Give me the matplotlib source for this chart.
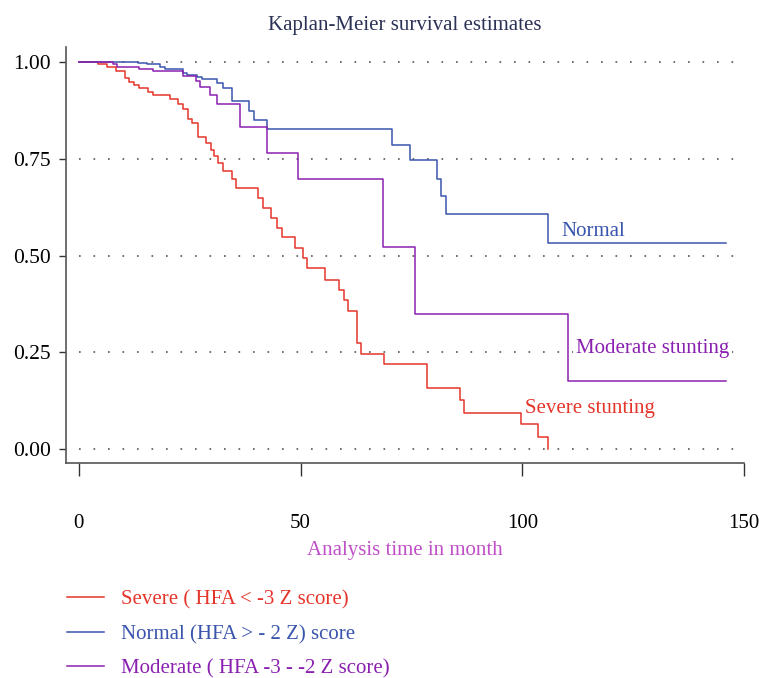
import matplotlib
matplotlib.use("Agg")
import matplotlib.pyplot as plt

plt.rcParams['font.family'] = ['Liberation Serif', 'DejaVu Serif']

# Severe stunting (HFA < -3 Z)
severe_t = [0, 4.4, 6.3, 8.3, 10.4, 11.4, 12.4, 13.5, 15.5, 16.6, 20.5, 22.4, 23.4,
            24.5, 25.6, 26.8, 28.6, 29.7, 30.5, 31.4, 32.6, 34.5, 35.4, 40.5, 41.5,
            43.3, 44.6, 45.8, 48.7, 50.6, 51.5, 55.5, 58.6, 59.7, 60.7, 62.7, 63.7,
            68.7, 78.6, 85.9, 86.8, 99.7, 103.6, 105.8]
severe_s = [1.0, 0.994, 0.986, 0.977, 0.958, 0.949, 0.941, 0.932, 0.923, 0.915, 0.904,
            0.891, 0.879, 0.853, 0.842, 0.807, 0.791, 0.773, 0.757, 0.739, 0.718,
            0.697, 0.675, 0.649, 0.622, 0.596, 0.571, 0.547, 0.519, 0.493, 0.467,
            0.438, 0.411, 0.385, 0.357, 0.275, 0.247, 0.220, 0.157, 0.127, 0.094,
            0.065, 0.032, 0.0]

# Normal (HFA > -2 Z)
normal_t = [0, 13.4, 15.3, 18.3, 19.4, 23.5, 24.4, 26.6, 27.8, 31.1, 32.4, 34.5,
            38.4, 39.5, 42.5, 70.6, 74.6, 80.7, 81.6, 82.8, 105.7, 146]
normal_s = [1.0, 0.997, 0.994, 0.988, 0.981, 0.972, 0.966, 0.962, 0.955, 0.945,
            0.932, 0.899, 0.874, 0.850, 0.826, 0.787, 0.747, 0.699, 0.654, 0.607,
            0.532, 0.532]

# Moderate stunting (HFA -3 to -2 Z)
moderate_t = [0, 7.7, 8.7, 13.5, 16.6, 23.5, 26.5, 27.4, 29.5, 31.1, 36.3, 42.5,
              49.5, 68.6, 75.7, 110.2, 146]
moderate_s = [1.0, 0.995, 0.988, 0.982, 0.977, 0.964, 0.950, 0.935, 0.915, 0.891,
              0.833, 0.766, 0.697, 0.523, 0.348, 0.176, 0.176]

legend_labels = ['Severe ( HFA < -3 Z score)',
                 'Normal (HFA > - 2 Z) score',
                 'Moderate ( HFA -3 - -2 Z score)']
curve_names = ['Severe stunting', 'Normal', 'Moderate stunting']

red = '#e5352b'
blue = '#3a55ad'
purple = '#8a20b0'

fig = plt.figure(figsize=(7.59, 6.78), dpi=100)
ax = fig.add_axes([0.087, 0.317, 0.8933, 0.6137])

for g in [0, 0.25, 0.5, 0.75, 1.0]:
    ax.hlines(g, 0, 152, colors='#555555', linewidth=1.2,
              linestyles=(0, (1.0, 7.7)), zorder=1)

l1, = ax.step(severe_t, severe_s, where='post', color=red, lw=1.1, zorder=3)
l2, = ax.step(normal_t, normal_s, where='post', color=blue, lw=1.1, zorder=3)
l3, = ax.step(moderate_t, moderate_s, where='post', color=purple, lw=1.1, zorder=3)

# curve labels sit on a white patch so the dotted grid doesn't run through them
box = dict(facecolor='white', edgecolor='none', pad=2)
ax.text(108.8, 0.563, curve_names[1], color=blue, fontsize=15, va='center', bbox=box, zorder=2)
ax.text(112, 0.261, curve_names[2], color=purple, fontsize=15, va='center', bbox=box, zorder=2)
ax.text(100.5, 0.106, curve_names[0], color=red, fontsize=15, va='center', bbox=box, zorder=2)

ax.set_xlim(-2.9, 150)
ax.set_ylim(-0.036, 1.039)
ax.set_xticks([0, 50, 100, 150])
ax.set_yticks([0, 0.25, 0.5, 0.75, 1.0])
ax.set_yticklabels(['0.00', '0.25', '0.50', '0.75', '1.00'])

for s in ['top', 'right']:
    ax.spines[s].set_visible(False)
for s in ['left', 'bottom']:
    ax.spines[s].set_color('#555555')
    ax.spines[s].set_linewidth(1.2)

ax.tick_params(axis='x', length=9.5, width=1, color='#333333', labelsize=15, pad=27)
ax.tick_params(axis='y', length=5, width=1, color='#333333', labelsize=15.5, pad=6)

ax.set_title('Kaplan-Meier survival estimates', color='#2b3256', fontsize=15, pad=12)
ax.set_xlabel('Analysis time in month', color='#c050c8', fontsize=15, labelpad=6)

fig.legend([l1, l2, l3], legend_labels, loc='upper left',
           bbox_to_anchor=(0.088, 0.130), bbox_transform=fig.transFigure,
           frameon=False, fontsize=15, labelcolor='linecolor',
           handlelength=1.8, handletextpad=0.8, labelspacing=0.72,
           borderpad=0, borderaxespad=0)

fig.savefig('out.png', dpi=100)
